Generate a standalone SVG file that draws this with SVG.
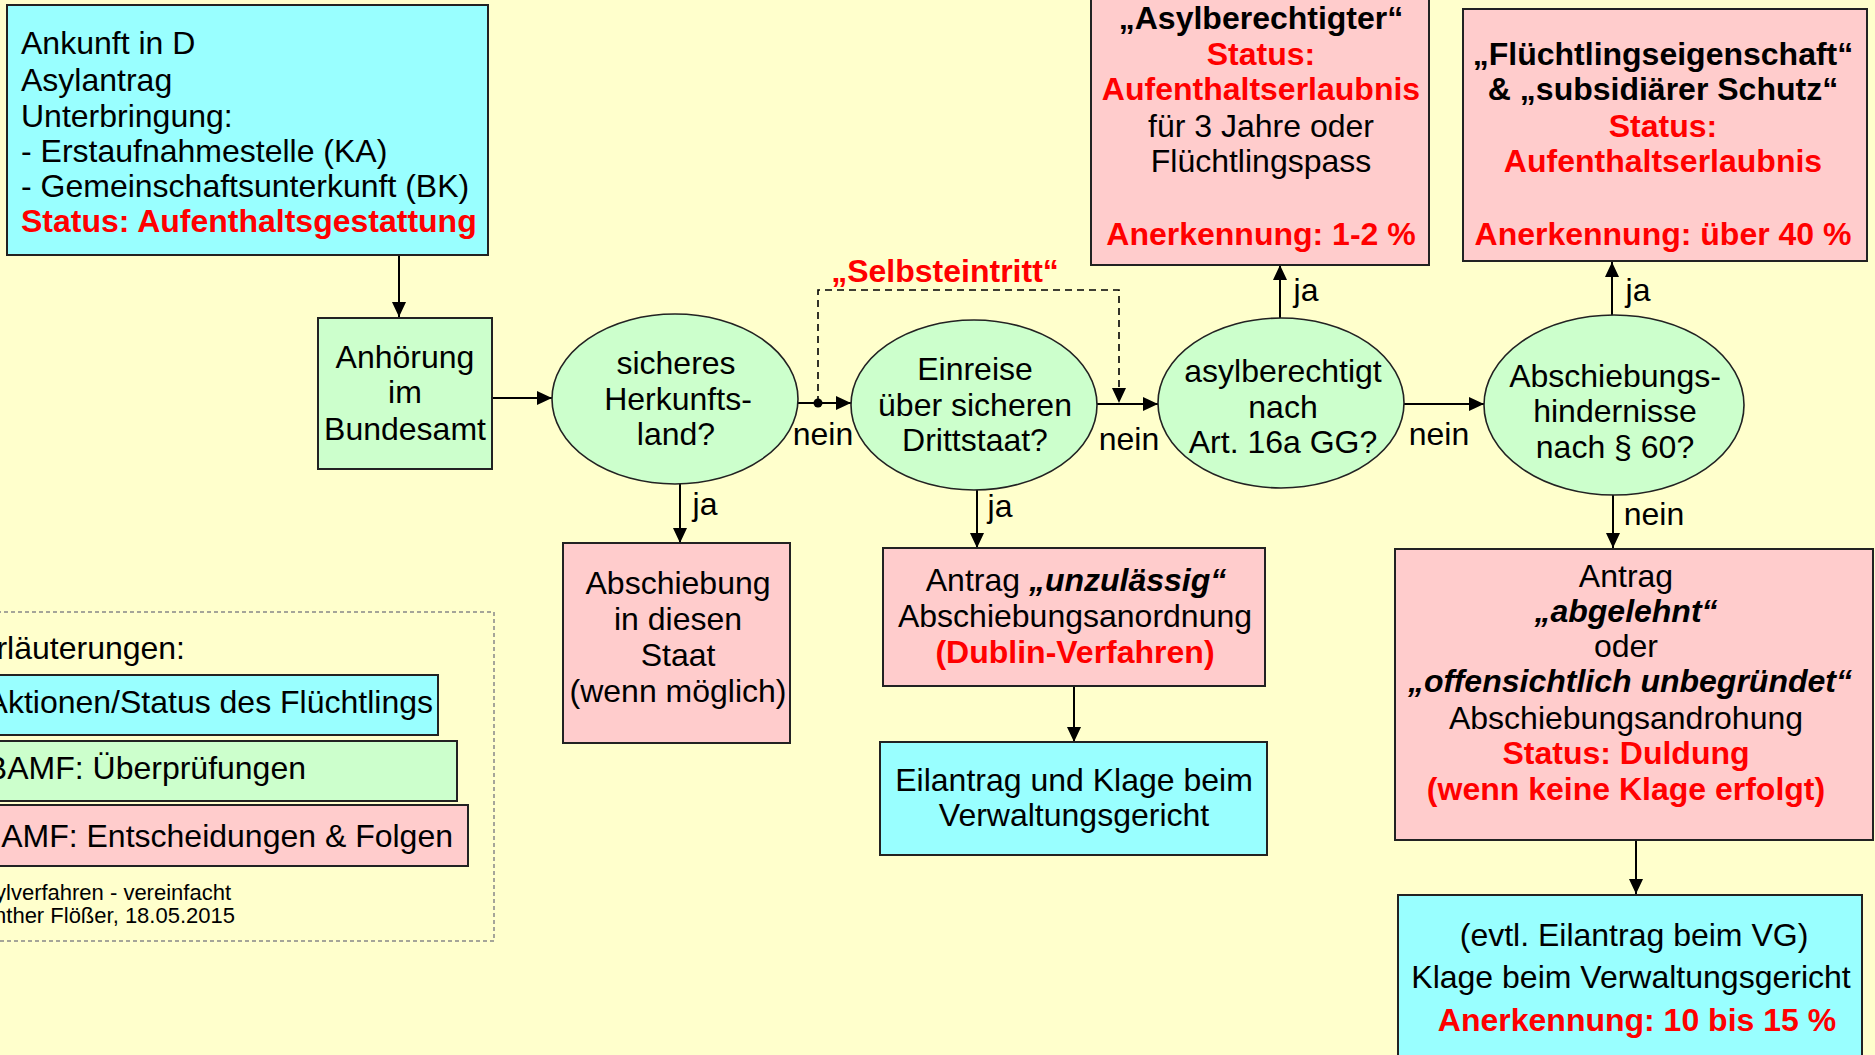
<svg xmlns="http://www.w3.org/2000/svg" width="1875" height="1055" viewBox="0 0 1875 1055">
<defs>
<marker id="arr" markerUnits="userSpaceOnUse" markerWidth="16" markerHeight="14" refX="15" refY="7" orient="auto">
<path d="M0,0 L15,7 L0,14 z" fill="#000"/>
</marker>
<style>
text{font-family:"Liberation Sans",Arial,sans-serif;font-size:32px;fill:#000}
.c{text-anchor:middle}
.e{text-anchor:end}
.b{font-weight:bold}
.bi{font-weight:bold;font-style:italic}
.r{fill:#ff0000}
.cy{fill:#99ffff;stroke:#222;stroke-width:2}
.gr{fill:#ccffcc;stroke:#222;stroke-width:2}
.pk{fill:#ffcccc;stroke:#222;stroke-width:2}
.el{fill:#ccffcc;stroke:#222;stroke-width:1.6}
.ln{fill:none;stroke:#000;stroke-width:2}
.dash{fill:none;stroke:#000;stroke-width:1.6;stroke-dasharray:7,5}
.sm{font-size:22px}
</style>
</defs>
<rect x="0" y="0" width="1875" height="1055" fill="#ffffcc"/>

<g id="connectors">
<path class="ln" d="M399,255 V317" marker-end="url(#arr)"/>
<path class="ln" d="M492,398 H552" marker-end="url(#arr)"/>
<path class="ln" d="M798,403 H851" marker-end="url(#arr)"/>
<circle cx="818" cy="403" r="4.5" fill="#000"/>
<path class="dash" d="M818,403 V290 H1119 V403" marker-end="url(#arr)"/>
<path class="ln" d="M1097,404 H1158" marker-end="url(#arr)"/>
<path class="ln" d="M1404,404 H1484" marker-end="url(#arr)"/>
<path class="ln" d="M680,484 V543" marker-end="url(#arr)"/>
<path class="ln" d="M977,490 V548" marker-end="url(#arr)"/>
<path class="ln" d="M1280,318 V265" marker-end="url(#arr)"/>
<path class="ln" d="M1612,315 V262" marker-end="url(#arr)"/>
<path class="ln" d="M1613,495 V548" marker-end="url(#arr)"/>
<path class="ln" d="M1074,686 V742" marker-end="url(#arr)"/>
<path class="ln" d="M1636,840 V894" marker-end="url(#arr)"/>
<text class="c b r" x="945" y="282">„Selbsteintritt“</text>
<text class="c" x="823" y="445">nein</text>
<text class="c" x="1129" y="450">nein</text>
<text class="c" x="1439" y="445">nein</text>
<text class="c" x="1654" y="525">nein</text>
<text class="c" x="705" y="515">ja</text>
<text class="c" x="1000" y="517">ja</text>
<text class="c" x="1306" y="301">ja</text>
<text class="c" x="1638" y="301">ja</text>
</g>

<g id="ankunft">
<rect class="cy" x="7" y="5" width="481" height="250"/>
<text x="21" y="54">Ankunft in D</text>
<text x="21" y="91">Asylantrag</text>
<text x="21" y="127">Unterbringung:</text>
<text x="21" y="162">- Erstaufnahmestelle (KA)</text>
<text x="21" y="197">- Gemeinschaftsunterkunft (BK)</text>
<text class="b r" x="21" y="232">Status: Aufenthaltsgestattung</text>
</g>

<g id="anhoerung">
<rect class="gr" x="318" y="318" width="174" height="151"/>
<text class="c" x="405" y="368">Anhörung</text>
<text class="c" x="405" y="403">im</text>
<text class="c" x="405" y="440">Bundesamt</text>
</g>

<g id="herkunft">
<ellipse class="el" cx="675" cy="399" rx="123" ry="85"/>
<text class="c" x="676" y="374">sicheres</text>
<text class="c" x="678" y="410">Herkunfts-</text>
<text class="c" x="676" y="445">land?</text>
</g>

<g id="drittstaat">
<ellipse class="el" cx="974" cy="405" rx="123" ry="85"/>
<text class="c" x="975" y="380">Einreise</text>
<text class="c" x="975" y="416">über sicheren</text>
<text class="c" x="975" y="451">Drittstaat?</text>
</g>

<g id="asylberechtigt">
<ellipse class="el" cx="1281" cy="403" rx="123" ry="85"/>
<text class="c" x="1283" y="382">asylberechtigt</text>
<text class="c" x="1283" y="418">nach</text>
<text class="c" x="1283" y="453">Art. 16a GG?</text>
</g>

<g id="hindernisse">
<ellipse class="el" cx="1614" cy="405" rx="130" ry="90"/>
<text class="c" x="1615" y="387">Abschiebungs-</text>
<text class="c" x="1615" y="422">hindernisse</text>
<text class="c" x="1615" y="458">nach § 60?</text>
</g>

<g id="abschiebung">
<rect class="pk" x="563" y="543" width="227" height="200"/>
<text class="c" x="678" y="594">Abschiebung</text>
<text class="c" x="678" y="630">in diesen</text>
<text class="c" x="678" y="666">Staat</text>
<text class="c" x="678" y="702">(wenn möglich)</text>
</g>

<g id="unzulaessig">
<rect class="pk" x="883" y="548" width="382" height="138"/>
<text class="c" x="1076" y="591">Antrag <tspan class="bi">„unzulässig“</tspan></text>
<text class="c" x="1075" y="627">Abschiebungsanordnung</text>
<text class="c b r" x="1075" y="663">(Dublin-Verfahren)</text>
</g>

<g id="eilantrag">
<rect class="cy" x="880" y="742" width="387" height="113"/>
<text class="c" x="1074" y="791">Eilantrag und Klage beim</text>
<text class="c" x="1074" y="826">Verwaltungsgericht</text>
</g>

<g id="asylberechtigter">
<rect class="pk" x="1091" y="-2" width="338" height="267"/>
<text class="c b" x="1261" y="29">„Asylberechtigter“</text>
<text class="c b r" x="1261" y="65">Status:</text>
<text class="c b r" x="1261" y="100">Aufenthaltserlaubnis</text>
<text class="c" x="1261" y="137">für 3 Jahre oder</text>
<text class="c" x="1261" y="172">Flüchtlingspass</text>
<text class="c b r" x="1261" y="245">Anerkennung: 1-2 %</text>
</g>

<g id="fluechtlingseigenschaft">
<rect class="pk" x="1463" y="9" width="404" height="252"/>
<text class="c b" x="1663" y="65">„Flüchtlingseigenschaft“</text>
<text class="c b" x="1663" y="100">&amp; „subsidiärer Schutz“</text>
<text class="c b r" x="1663" y="137">Status:</text>
<text class="c b r" x="1663" y="172">Aufenthaltserlaubnis</text>
<text class="c b r" x="1663" y="245">Anerkennung: über 40 %</text>
</g>

<g id="abgelehnt">
<rect class="pk" x="1395" y="549" width="478" height="291"/>
<text class="c" x="1626" y="587">Antrag</text>
<text class="c bi" x="1626" y="622">„abgelehnt“</text>
<text class="c" x="1626" y="657">oder</text>
<text class="c bi" x="1630" y="692">„offensichtlich unbegründet“</text>
<text class="c" x="1626" y="729">Abschiebungsandrohung</text>
<text class="c b r" x="1626" y="764">Status: Duldung</text>
<text class="c b r" x="1626" y="800">(wenn keine Klage erfolgt)</text>
</g>

<g id="klage">
<rect class="cy" x="1398" y="895" width="464" height="175"/>
<text class="c" x="1634" y="946">(evtl. Eilantrag beim VG)</text>
<text class="c" x="1631" y="988">Klage beim Verwaltungsgericht</text>
<text class="c b r" x="1637" y="1031">Anerkennung: 10 bis 15 %</text>
</g>

<g id="legende">
<rect x="-10" y="612" width="504" height="329" fill="none" stroke="#888" stroke-width="1.5" stroke-dasharray="4,3"/>
<text class="e" x="185" y="659">Erläuterungen:</text>
<rect class="cy" x="-10" y="675" width="448" height="60"/>
<text class="e" x="433" y="713">Aktionen/Status des Flüchtlings</text>
<rect class="gr" x="-10" y="741" width="467" height="60"/>
<text class="e" x="306" y="779">BAMF: Überprüfungen</text>
<rect class="pk" x="-10" y="805" width="478" height="61"/>
<text class="e" x="453" y="847">BAMF: Entscheidungen &amp; Folgen</text>
<text class="e sm" x="231" y="900">Asylverfahren - vereinfacht</text>
<text class="e sm" x="235" y="923">Günther Flößer, 18.05.2015</text>
</g>
</svg>
